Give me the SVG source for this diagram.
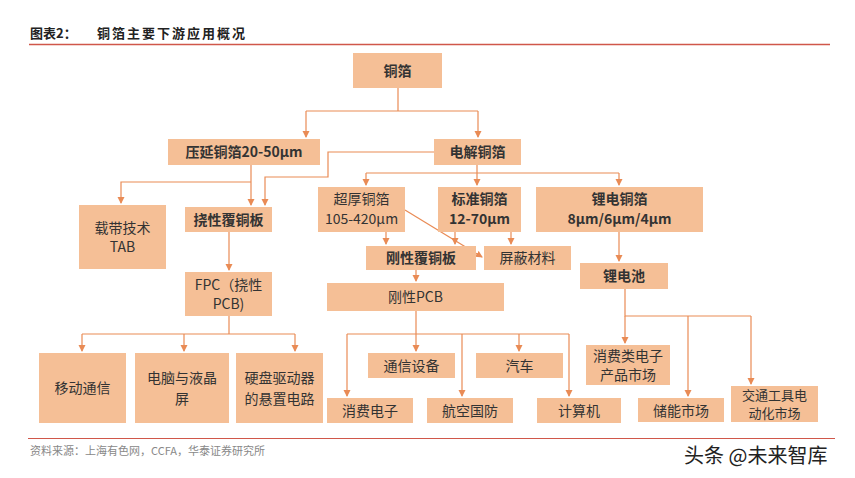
<svg xmlns="http://www.w3.org/2000/svg" width="855" height="478" viewBox="0 0 855 478">
<style>
.box{fill:#F5BF96}
.t{font-family:"Noto Sans CJK SC","Noto Sans",sans-serif;font-size:14px;fill:#333;text-anchor:middle}
.s{font-size:13px}
.b{font-weight:bold}
.c{fill:none;stroke:#E98B55;stroke-width:1.2}
</style>
<defs>
<marker id="ah" markerWidth="8" markerHeight="8" refX="6" refY="3.5" orient="auto" markerUnits="userSpaceOnUse">
<path d="M0,0 L7,3.5 L0,7 z" fill="#E98B55"/>
</marker>
</defs>
<rect width="855" height="478" fill="#fff"/>
<g id="title">
<text x="30" y="38" font-family="'Noto Sans CJK SC',sans-serif" font-size="13" font-weight="bold" fill="#222">图表2：</text>
<text x="97" y="38" font-family="'Noto Sans CJK SC',sans-serif" font-size="13" font-weight="bold" fill="#222" letter-spacing="2">铜箔主要下游应用概况</text>
<line x1="29" y1="44.5" x2="830" y2="44.5" stroke="#D0574A" stroke-width="1.5"/>
</g>
<g id="connectors">
<path class="c" d="M398,88 V111 M306,111 H478" />
<path class="c" d="M306,111 V137" marker-end="url(#ah)"/>
<path class="c" d="M478,111 V137" marker-end="url(#ah)"/>
<path class="c" d="M251,165 V205" marker-end="url(#ah)"/>
<path class="c" d="M251,182 H121 V203" marker-end="url(#ah)"/>
<path class="c" d="M434,152 H328 V177 H265 V205" marker-end="url(#ah)"/>
<path class="c" d="M477,165 V185" marker-end="url(#ah)"/>
<path class="c" d="M366,173 H619"/>
<path class="c" d="M366,173 V185" marker-end="url(#ah)"/>
<path class="c" d="M619,173 V185" marker-end="url(#ah)"/>
<path class="c" d="M229,232 V270" marker-end="url(#ah)"/>
<path class="c" d="M229,316 V334 M82,334 H295"/>
<path class="c" d="M82,334 V351" marker-end="url(#ah)"/>
<path class="c" d="M184,334 V351" marker-end="url(#ah)"/>
<path class="c" d="M295,334 V351" marker-end="url(#ah)"/>
<path class="c" d="M386,232 V244" marker-end="url(#ah)"/>
<path class="c" d="M455,232 V244" marker-end="url(#ah)"/>
<path class="c" d="M511,232 V244" marker-end="url(#ah)"/>
<path class="c" d="M405,210 L482,257" marker-end="url(#ah)"/>
<path class="c" d="M416,270 V281" marker-end="url(#ah)"/>
<path class="c" d="M619,232 V261" marker-end="url(#ah)"/>
<path class="c" d="M416,311 V334 M347,334 H569"/>
<path class="c" d="M416,334 V351" marker-end="url(#ah)"/>
<path class="c" d="M519,334 V351" marker-end="url(#ah)"/>
<path class="c" d="M347,334 V396" marker-end="url(#ah)"/>
<path class="c" d="M462,334 V396" marker-end="url(#ah)"/>
<path class="c" d="M569,334 V396" marker-end="url(#ah)"/>
<path class="c" d="M625,289 V316 H751"/>
<path class="c" d="M625,316 V343" marker-end="url(#ah)"/>
<path class="c" d="M688,316 V396" marker-end="url(#ah)"/>
<path class="c" d="M751,316 V384" marker-end="url(#ah)"/>
</g>
<g id="n-tongbo"><rect class="box" x="353" y="53" width="89" height="35"/><text class="t b" x="397.5" y="76">铜箔</text></g>
<g id="n-yayan"><rect class="box" x="168" y="139" width="152" height="26"/><text class="t b" x="244" y="157">压延铜箔20-50μm</text></g>
<g id="n-dianjie"><rect class="box" x="434" y="139" width="87" height="26"/><text class="t b" x="477.5" y="157">电解铜箔</text></g>
<g id="n-zaidai"><rect class="box" x="79" y="205" width="87" height="64"/><text class="t" x="122.5" y="233">载带技术</text><text class="t" x="122.5" y="252">TAB</text></g>
<g id="n-naoxing"><rect class="box" x="185" y="207" width="87" height="25"/><text class="t b" x="228.5" y="224.5">挠性覆铜板</text></g>
<g id="n-fpc"><rect class="box" x="185" y="272" width="87" height="44"/><text class="t" x="228.5" y="290">FPC（挠性</text><text class="t" x="228.5" y="309">PCB)</text></g>
<g id="n-chaohou"><rect class="box" x="318" y="187" width="87" height="45"/><text class="t" x="361.5" y="204">超厚铜箔</text><text class="t" x="361.5" y="224">105-420μm</text></g>
<g id="n-biaozhun"><rect class="box" x="438" y="187" width="83" height="45"/><text class="t b" x="479.5" y="204">标准铜箔</text><text class="t b" x="479.5" y="224">12-70μm</text></g>
<g id="n-lidian"><rect class="box" x="536" y="187" width="167" height="45"/><text class="t b" x="619.5" y="204">锂电铜箔</text><text class="t b" x="619.5" y="224">8μm/6μm/4μm</text></g>
<g id="n-gangxing"><rect class="box" x="366" y="246" width="110" height="24"/><text class="t b" x="421" y="263">刚性覆铜板</text></g>
<g id="n-pingbi"><rect class="box" x="484" y="246" width="87" height="24"/><text class="t" x="527.5" y="263">屏蔽材料</text></g>
<g id="n-gangpcb"><rect class="box" x="327" y="283" width="177" height="28"/><text class="t" x="415.5" y="302">刚性PCB</text></g>
<g id="n-lidianchi"><rect class="box" x="580" y="263" width="88" height="26"/><text class="t b" x="624" y="281">锂电池</text></g>
<g id="n-yidong"><rect class="box" x="39" y="353" width="87" height="70"/><text class="t" x="82.5" y="393">移动通信</text></g>
<g id="n-diannao"><rect class="box" x="135" y="353" width="94" height="70"/><text class="t" x="182" y="383">电脑与液晶</text><text class="t" x="182" y="404">屏</text></g>
<g id="n-yingpan"><rect class="box" x="236" y="353" width="87" height="70"/><text class="t" x="279.5" y="383">硬盘驱动器</text><text class="t" x="279.5" y="404">的悬置电路</text></g>
<g id="n-tongxin"><rect class="box" x="368" y="353" width="87" height="25"/><text class="t" x="411.5" y="371">通信设备</text></g>
<g id="n-qiche"><rect class="box" x="476" y="353" width="87" height="25"/><text class="t" x="519.5" y="371">汽车</text></g>
<g id="n-xiaofei"><rect class="box" x="327" y="398" width="86" height="25"/><text class="t" x="370" y="416">消费电子</text></g>
<g id="n-hangkong"><rect class="box" x="427" y="398" width="86" height="25"/><text class="t" x="470" y="416">航空国防</text></g>
<g id="n-jisuanji"><rect class="box" x="537" y="398" width="84" height="25"/><text class="t" x="579" y="416">计算机</text></g>
<g id="n-xiaofeilei"><rect class="box" x="586" y="345" width="84" height="40"/><text class="t" x="628" y="361">消费类电子</text><text class="t" x="628" y="380">产品市场</text></g>
<g id="n-chuneng"><rect class="box" x="638" y="398" width="86" height="24"/><text class="t" x="681" y="416">储能市场</text></g>
<g id="n-jiaotong"><rect class="box" x="731" y="386" width="87" height="36"/><text class="t s" x="774.5" y="400">交通工具电</text><text class="t s" x="774.5" y="418">动化市场</text></g>
<g id="footer">
<line x1="28" y1="438.5" x2="835" y2="438.5" stroke="#D0574A" stroke-width="1.2"/>
<text x="30" y="455" font-family="'Noto Sans CJK SC',sans-serif" font-size="11" fill="#888">资料来源：上海有色网，CCFA，华泰证券研究所</text>
<text x="684" y="463" font-family="'Noto Sans CJK SC',sans-serif" font-size="20" fill="#222">头条 @未来智库</text>
</g>
</svg>
